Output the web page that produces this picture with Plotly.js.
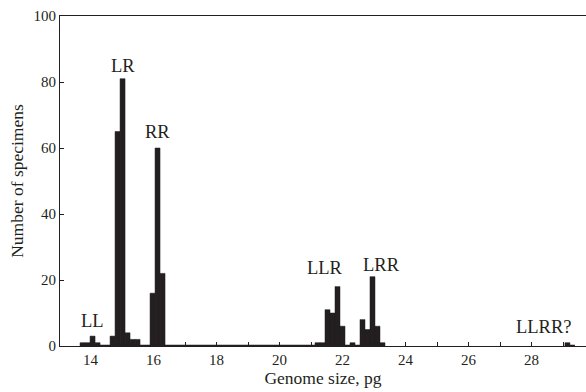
<!DOCTYPE html>
<html>
<head>
<meta charset="utf-8">
<script src="https://cdn.plot.ly/plotly-3.0.1.min.js"></script>
<style>html,body{margin:0;padding:0;background:#fff;}#chart{width:586px;height:392px;}</style>
</head>
<body>
<div id="chart"></div>
<script>
// Histogram bins (genome size, pg)
const binStart = 13.667;
const binWidth = 0.1587;
// counts for consecutive bins starting at binStart
const counts = [1, 1, 3, 1, 0, 0, 3, 65, 81, 4, 2, 2, 0, 0, 16, 60, 22, 0, 0, 0,
                0, 0, 0, 0, 0, 0, 0, 0, 0, 0, 0, 0, 0, 0, 0, 0, 0, 0, 0, 0,
                0, 0, 0, 0, 0, 0, 0, 1, 1, 11, 10, 18, 6, 0, 1, 0, 8, 5, 21, 6, 1];
// isolated LLRR? bin
const extraBinIndex = [97];
const extraCounts = [1];

const labelText = ["LL", "LR", "RR", "LLR", "LRR", "LLRR?"];
const labelX = [14.05, 15.03, 16.14, 21.44, 23.25, 28.4];
const labelY = [7.7, 84.7, 65, 23.5, 24.4, 5.9];

const xs = [], ys = [];
counts.forEach((c, i) => { xs.push(binStart + (i + 0.5) * binWidth); ys.push(c); });
extraBinIndex.forEach((i, k) => { xs.push(binStart + (i + 0.5) * binWidth); ys.push(extraCounts[k]); });

const fam = "Liberation Serif, Times New Roman, serif";
const ink = "#231f20";
const tickFont = {family: fam, size: 15, color: ink};
const titleFont = {family: fam, size: 17.5, color: ink};

const traces = [
  {
    type: "bar", x: xs, y: ys, width: binWidth,
    marker: {color: ink, line: {color: ink, width: 0.5}},
    hoverinfo: "x+y", showlegend: false
  },
  {
    type: "scatter", mode: "lines",
    x: [binStart, binStart + counts.length * binWidth], y: [0, 0],
    line: {color: ink, width: 2.5}, showlegend: false, hoverinfo: "skip"
  },
  {
    type: "scatter", mode: "lines",
    x: [binStart + extraBinIndex[0] * binWidth, binStart + (extraBinIndex[0] + 2) * binWidth], y: [0, 0],
    line: {color: ink, width: 2.5}, showlegend: false, hoverinfo: "skip"
  }
];

const layout = {
  width: 586, height: 392,
  margin: {l: 60, r: 0, t: 16, b: 46},
  paper_bgcolor: "#fff", plot_bgcolor: "#fff",
  font: tickFont,
  bargap: 0,
  xaxis: {
    range: [13.03, 29.73], dtick: 2, tick0: 0,
    ticks: "inside", ticklen: 4, tickcolor: ink, tickwidth: 1,
    minor: {dtick: 1, tick0: 0, ticks: "inside", ticklen: 4, tickcolor: ink},
    showgrid: false, zeroline: false,
    showline: true, linecolor: ink, linewidth: 1, mirror: true,
    tickfont: tickFont,
    title: {text: "Genome size, pg", font: titleFont, standoff: 2}
  },
  yaxis: {
    range: [0, 100], dtick: 20,
    ticks: "inside", ticklen: 4, tickcolor: ink,
    showgrid: false, zeroline: false,
    showline: true, linecolor: ink, linewidth: 1,
    tickfont: tickFont,
    title: {text: "Number of specimens", font: titleFont, standoff: 5}
  },
  annotations: labelText.map((t, i) => ({
    x: labelX[i], y: labelY[i], xref: "x", yref: "y", text: t,
    showarrow: false, font: {family: fam, size: 18.5, color: ink}
  }))
};

Plotly.newPlot("chart", traces, layout, {displayModeBar: false, staticPlot: true});
</script>
</body>
</html>
